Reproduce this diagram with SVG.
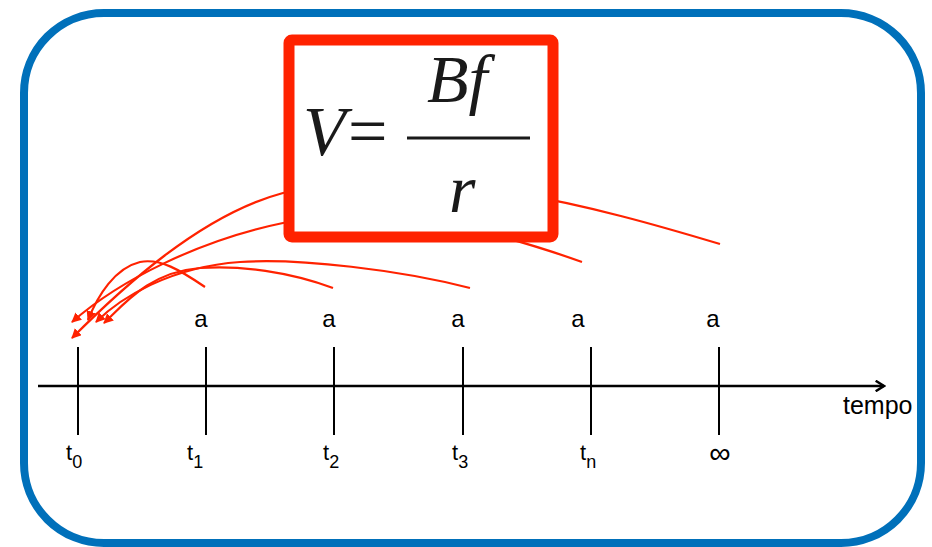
<svg xmlns="http://www.w3.org/2000/svg" width="932" height="547" viewBox="0 0 932 547">
<style>
.frame{fill:none;stroke:#0070BA;stroke-width:8}
.axis{stroke:#000;stroke-width:2.5;fill:none}
.tick{stroke:#000;stroke-width:2}
.lbl{font-family:"Liberation Sans",Arial,sans-serif;font-size:22px;fill:#000}
.a{font-family:"Liberation Sans",Arial,sans-serif;font-size:24px;fill:#000;text-anchor:middle}
.curve{fill:none;stroke:#FF2200;stroke-width:2.2;marker-end:url(#rh)}
.box{fill:#fff;stroke:#FF2200;stroke-width:11}
.math{font-family:"Liberation Serif","Times New Roman",serif;font-style:italic;fill:#1a1a1a}
</style>
<defs>
<marker id="rh" viewBox="0 0 10 10" refX="9" refY="5" markerWidth="4.5" markerHeight="4.5" orient="auto" markerUnits="strokeWidth">
<path d="M0,0 L10,5 L0,10 Z" fill="#FF2200"/>
</marker>
<marker id="ah" viewBox="0 0 12 12" refX="10" refY="6" markerWidth="5" markerHeight="5" orient="auto" markerUnits="strokeWidth">
<path d="M2,1 L10,6 L2,11" fill="none" stroke="#000" stroke-width="2.4"/>
</marker>
</defs>
<rect class="frame" x="24" y="13" width="897" height="530" rx="80" ry="80"/>
<g id="timeline">
<line class="axis" x1="38" y1="386" x2="884" y2="386" marker-end="url(#ah)"/>
<line class="tick" x1="78" y1="347" x2="78" y2="435"/>
<line class="tick" x1="206" y1="347" x2="206" y2="435"/>
<line class="tick" x1="334" y1="347" x2="334" y2="435"/>
<line class="tick" x1="463" y1="347" x2="463" y2="435"/>
<line class="tick" x1="591" y1="347" x2="591" y2="435"/>
<line class="tick" x1="719" y1="347" x2="719" y2="435"/>
<text class="lbl" x="843" y="414" style="font-size:25px">tempo</text>
</g>
<g id="labels-bottom">
<text class="lbl" x="66" y="460">t<tspan style="font-size:18px" dy="8">0</tspan></text>
<text class="lbl" x="187" y="460">t<tspan style="font-size:18px" dy="8">1</tspan></text>
<text class="lbl" x="323" y="460">t<tspan style="font-size:18px" dy="8">2</tspan></text>
<text class="lbl" x="452" y="460">t<tspan style="font-size:18px" dy="8">3</tspan></text>
<text class="lbl" x="580" y="460">t<tspan style="font-size:18px" dy="8">n</tspan></text>
<text class="lbl" x="720" y="463" text-anchor="middle" style="font-size:30px">∞</text>
</g>
<g id="labels-a">
<text class="a" x="201" y="327">a</text>
<text class="a" x="329" y="327">a</text>
<text class="a" x="458" y="327">a</text>
<text class="a" x="578" y="327">a</text>
<text class="a" x="713" y="327">a</text>
</g>
<g id="connectors">
<path class="curve" d="M720,244 C600,208 430,160 283,193 C200,215 120,290 72,338"/>
<path class="curve" d="M582,262 C520,240 400,200 283,223 C200,240 120,280 72,322"/>
<path class="curve" d="M470,288 C400,270 300,258 240,262 C170,267 120,298 96,322"/>
<path class="curve" d="M333,288 C290,272 240,265 200,268 C150,272 125,303 104,323"/>
<path class="curve" d="M205,287 C180,270 160,258 140,262 C115,268 98,295 88,320"/>
</g>
<g id="formula">
<rect class="box" x="289" y="40" width="264" height="197" rx="3"/>
<text class="math" x="303" y="155" style="font-size:70px">V</text>
<text class="math" x="348" y="155" style="font-size:70px;font-style:normal">=</text>
<line x1="407" y1="138" x2="530" y2="138" stroke="#1a1a1a" stroke-width="3"/>
<text class="math" x="427" y="102" style="font-size:68px">Bf</text>
<text class="math" x="449" y="212" style="font-size:68px">r</text>
</g>
</svg>
